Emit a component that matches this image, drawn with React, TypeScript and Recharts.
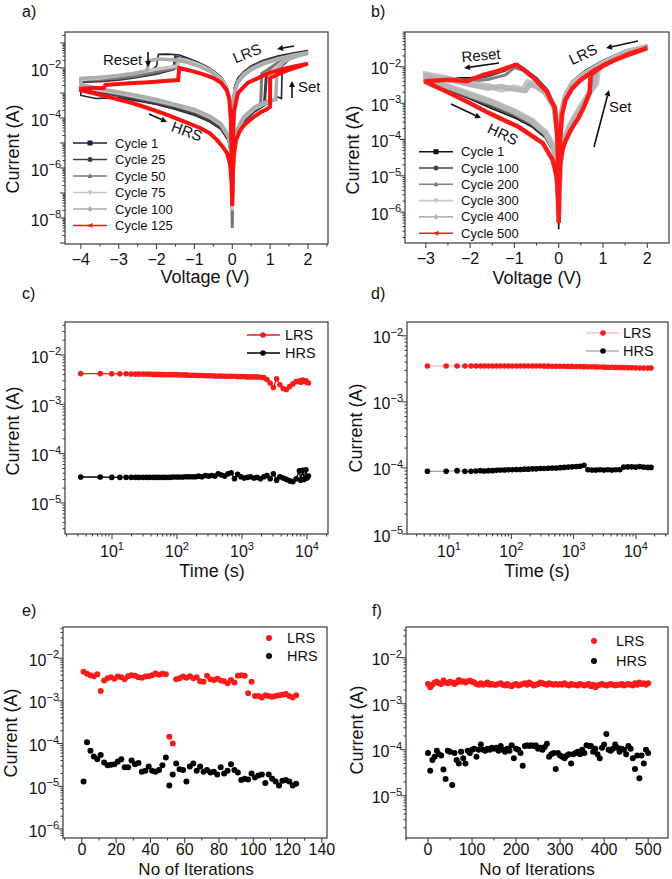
import React from 'react';
import { ComposedChart, Line, Scatter, XAxis, YAxis } from 'recharts';

const FONT = '"Liberation Sans", Arial, Helvetica, sans-serif';
const AXIS = '#333333';
const INK = '#111111';

// ---------- panel a: I-V sweeps (V, |I|) ----------
const aCycle1 = [
  [0, 1.2e-8], [-0.02, 5e-5], [-0.06, 6e-4], [-0.15, 2e-3], [-0.3, 4.5e-3], [-0.6, 1e-2], [-0.9, 1.7e-2], [-1.2, 2.6e-2],
  [-1.4, 3.3e-2], [-1.7, 3.6e-2], [-1.95, 3.5e-2], [-2.0, 1.2e-2], [-2.1, 9e-3], [-2.5, 6e-3], [-3.0, 4.5e-3], [-3.5, 3.8e-3], [-4.0, 3.2e-3],
  [-4.0, 8e-4], [-3.6, 6e-4], [-3.0, 6.5e-4], [-2.5, 4.8e-4], [-2.0, 3.5e-4], [-1.5, 2.2e-4], [-1.0, 1.3e-4], [-0.6, 7e-5],
  [-0.3, 3.5e-5], [-0.1, 1.2e-5], [-0.03, 3e-6], [0, 1.2e-8],
  [0.03, 4e-6], [0.1, 2e-5], [0.3, 7e-5], [0.6, 1.8e-4], [0.9, 3.5e-4], [1.1, 5e-4], [1.2, 7e-4], [1.3, 6e-4], [1.32, 1.2e-2],
  [1.6, 2.8e-2], [2.0, 5e-2], [1.6, 4e-2], [1.2, 3e-2], [0.8, 2e-2], [0.5, 1.2e-2], [0.3, 7e-3], [0.15, 4e-3], [0.07, 2e-3],
  [0.03, 6e-4], [0.01, 5e-5], [0, 1.2e-8],
];
const aCycle25 = [
  [0, 5e-8], [-0.02, 6e-5], [-0.06, 5e-4], [-0.15, 1.8e-3], [-0.3, 4e-3], [-0.6, 9e-3], [-0.9, 1.5e-2], [-1.2, 2.2e-2],
  [-1.5, 2.8e-2], [-1.55, 9e-3], [-2.0, 6e-3], [-2.5, 4.5e-3], [-3.0, 3.5e-3], [-3.5, 3e-3], [-4.0, 2.8e-3],
  [-4.0, 1.6e-3], [-3.5, 1.1e-3], [-3.0, 8e-4], [-2.5, 5.5e-4], [-2.0, 3.8e-4], [-1.5, 2.5e-4], [-1.0, 1.5e-4], [-0.6, 8e-5],
  [-0.3, 4e-5], [-0.1, 1.4e-5], [-0.03, 4e-6], [0, 5e-8],
  [0.03, 5e-6], [0.1, 2.2e-5], [0.3, 8e-5], [0.6, 2e-4], [0.85, 3.5e-4], [0.9, 5e-3], [1.2, 1.5e-2], [1.6, 2.8e-2], [2.0, 4.5e-2],
  [1.6, 3.5e-2], [1.2, 2.6e-2], [0.8, 1.8e-2], [0.5, 1.1e-2], [0.3, 6.5e-3], [0.15, 3.5e-3], [0.07, 1.6e-3], [0.03, 5e-4],
  [0.01, 4e-5], [0, 5e-8],
];
const aCycle50 = [
  [0, 4e-9], [-0.02, 4e-5], [-0.06, 4e-4], [-0.15, 1.6e-3], [-0.3, 3.6e-3], [-0.6, 8e-3], [-0.9, 1.3e-2], [-1.2, 1.9e-2],
  [-1.45, 2.4e-2], [-1.5, 1e-2], [-2.0, 7e-3], [-2.5, 5e-3], [-3.0, 4e-3], [-3.5, 3.5e-3], [-4.0, 3.3e-3],
  [-4.0, 2e-3], [-3.5, 1.3e-3], [-3.0, 9e-4], [-2.5, 6.5e-4], [-2.0, 4.5e-4], [-1.5, 3e-4], [-1.0, 1.8e-4], [-0.6, 1e-4],
  [-0.3, 5e-5], [-0.1, 1.6e-5], [-0.03, 5e-6], [0, 4e-9],
  [0.03, 6e-6], [0.1, 2.5e-5], [0.3, 9e-5], [0.6, 2.3e-4], [0.75, 3e-4], [0.78, 6e-3], [1.2, 1.6e-2], [1.6, 3e-2], [2.0, 4.2e-2],
  [1.6, 3.3e-2], [1.2, 2.4e-2], [0.8, 1.6e-2], [0.5, 1e-2], [0.3, 6e-3], [0.15, 3e-3], [0.07, 1.4e-3], [0.03, 4e-4],
  [0.01, 3e-5], [0, 4e-9],
];
const aCycle75 = [
  [0, 2e-8], [-0.02, 5e-5], [-0.06, 5e-4], [-0.15, 1.7e-3], [-0.3, 3.8e-3], [-0.6, 8.5e-3], [-0.9, 1.4e-2], [-1.2, 2e-2],
  [-1.4, 2.3e-2], [-1.45, 1.2e-2], [-2.0, 9e-3], [-2.5, 6.5e-3], [-3.0, 5e-3], [-3.5, 4e-3], [-4.0, 3.5e-3],
  [-4.0, 1.8e-3], [-3.5, 1.3e-3], [-3.0, 1e-3], [-2.5, 7e-4], [-2.0, 5e-4], [-1.5, 3.3e-4], [-1.0, 2e-4], [-0.6, 1.1e-4],
  [-0.3, 5.5e-5], [-0.1, 1.8e-5], [-0.03, 5e-6], [0, 2e-8],
  [0.03, 6e-6], [0.1, 2.6e-5], [0.3, 1e-4], [0.6, 2.5e-4], [0.9, 4e-4], [1.0, 4.5e-4], [1.02, 7e-3], [1.3, 1.6e-2], [1.6, 2.6e-2],
  [2.0, 4e-2], [1.6, 3.2e-2], [1.2, 2.3e-2], [0.8, 1.5e-2], [0.5, 9e-3], [0.3, 5.5e-3], [0.15, 2.8e-3], [0.07, 1.3e-3],
  [0.03, 3.5e-4], [0.01, 3e-5], [0, 2e-8],
];
const aCycle100 = [
  [0, 3e-8], [-0.02, 4e-5], [-0.06, 4.5e-4], [-0.15, 1.5e-3], [-0.3, 3.4e-3], [-0.6, 7.5e-3], [-0.9, 1.2e-2], [-1.2, 1.7e-2],
  [-1.5, 2.1e-2], [-1.9, 2.3e-2], [-2.2, 2e-2], [-2.25, 8e-3], [-2.6, 6e-3], [-3.0, 5e-3], [-3.5, 4.3e-3], [-4.0, 3.8e-3],
  [-4.0, 2.2e-3], [-3.5, 1.5e-3], [-3.0, 1.1e-3], [-2.5, 8e-4], [-2.0, 5.5e-4], [-1.5, 3.5e-4], [-1.0, 2.2e-4], [-0.6, 1.2e-4],
  [-0.3, 6e-5], [-0.1, 2e-5], [-0.03, 6e-6], [0, 3e-8],
  [0.03, 7e-6], [0.1, 3e-5], [0.3, 1.1e-4], [0.6, 2.8e-4], [0.9, 4.5e-4], [1.15, 5.5e-4], [1.18, 8e-3], [1.4, 2e-2], [1.7, 3e-2],
  [2.0, 3.8e-2], [1.6, 3e-2], [1.2, 2.2e-2], [0.8, 1.4e-2], [0.5, 8.5e-3], [0.3, 5e-3], [0.15, 2.6e-3], [0.07, 1.2e-3],
  [0.03, 3e-4], [0.01, 2.5e-5], [0, 3e-8],
];
const aCycle125 = [
  [0, 3e-8], [-0.02, 5e-6], [-0.04, 1e-4], [-0.08, 6e-4], [-0.15, 1.3e-3], [-0.3, 2.6e-3], [-0.5, 4e-3], [-0.8, 5.8e-3],
  [-1.1, 7.8e-3], [-1.4, 1e-2], [-1.43, 3.3e-3], [-1.8, 3e-3], [-2.2, 2.7e-3], [-2.6, 2.5e-3], [-3.0, 2.3e-3], [-3.35, 2.1e-3],
  [-3.4, 1.6e-3], [-3.7, 1.6e-3], [-4.0, 1.5e-3],
  [-4.0, 1.3e-3], [-3.5, 8.5e-4], [-3.0, 5.5e-4], [-2.6, 3.8e-4], [-2.2, 2.4e-4], [-1.7, 1.3e-4], [-1.3, 7.5e-5], [-0.85, 4e-5],
  [-0.6, 2.5e-5], [-0.4, 1.3e-5], [-0.25, 7e-6], [-0.14, 4e-6], [-0.06, 1.5e-6], [-0.02, 3e-7], [0, 3e-8],
  [0.02, 8e-7], [0.05, 4e-6], [0.1, 1.3e-5], [0.2, 3e-5], [0.3, 5e-5], [0.45, 8e-5], [0.6, 1.2e-4], [0.75, 1.7e-4], [0.9, 2.2e-4],
  [1.0, 2.8e-4], [1.0, 4e-3], [1.2, 5.5e-3], [1.5, 8.5e-3], [1.8, 1.2e-2], [2.0, 1.5e-2],
  [1.7, 1.2e-2], [1.4, 9.5e-3], [1.0, 6.5e-3], [0.75, 4.4e-3], [0.4, 2.5e-3], [0.15, 1e-3], [0.05, 2e-4], [0.02, 2e-5], [0, 3e-8],
];

// ---------- panel b: I-V sweeps (V, |I|) ----------
const bCycle1 = [
  [0, 3.4e-7], [-0.01, 1e-5], [-0.03, 3e-4], [-0.1, 9e-4], [-0.25, 2.3e-3], [-0.5, 5e-3], [-0.8, 9.5e-3], [-1.0, 1.2e-2],
  [-1.2, 8.5e-3], [-1.6, 6e-3], [-2.0, 5e-3], [-2.5, 5e-3], [-3.0, 5e-3],
  [-3.0, 4e-3], [-2.5, 2.3e-3], [-2.0, 1.3e-3], [-1.5, 7e-4], [-1.0, 4e-4], [-0.6, 2.2e-4], [-0.3, 1.1e-4], [-0.12, 4.5e-5],
  [-0.04, 1.2e-5], [-0.01, 2e-6], [0, 3.4e-7],
  [0.01, 3e-6], [0.04, 2.5e-5], [0.1, 7e-5], [0.25, 1.8e-4], [0.4, 3.5e-4], [0.55, 7e-4], [0.65, 1.3e-3], [0.72, 2.5e-3],
  [0.74, 7e-3], [1.0, 1.4e-2], [1.5, 2.6e-2], [2.0, 4e-2],
  [1.5, 2.8e-2], [1.0, 1.5e-2], [0.6, 8e-3], [0.3, 4e-3], [0.15, 2e-3], [0.06, 6e-4], [0.02, 8e-5], [0, 3.4e-7],
];
const bCycle100 = [
  [0, 2e-6], [-0.01, 2e-5], [-0.03, 2.5e-4], [-0.1, 9e-4], [-0.25, 2.2e-3], [-0.5, 4.8e-3], [-0.8, 9e-3], [-1.0, 1.15e-2],
  [-1.2, 8e-3], [-1.6, 5.5e-3], [-2.0, 4.5e-3], [-2.5, 4.8e-3], [-3.0, 5.5e-3],
  [-3.0, 4.2e-3], [-2.5, 2.4e-3], [-2.0, 1.4e-3], [-1.5, 8e-4], [-1.0, 4.5e-4], [-0.6, 2.4e-4], [-0.3, 1.2e-4], [-0.12, 5e-5],
  [-0.04, 1.5e-5], [-0.01, 4e-6], [0, 2e-6],
  [0.01, 4e-6], [0.04, 2.8e-5], [0.1, 7.5e-5], [0.25, 2e-4], [0.4, 3.8e-4], [0.55, 7.5e-4], [0.68, 1.5e-3], [0.78, 2.8e-3],
  [0.8, 7.5e-3], [1.0, 1.4e-2], [1.5, 2.7e-2], [2.0, 3.9e-2],
  [1.5, 2.8e-2], [1.0, 1.45e-2], [0.6, 7.5e-3], [0.3, 3.8e-3], [0.15, 1.9e-3], [0.06, 6e-4], [0.02, 7e-5], [0, 2e-6],
];
const bCycle200 = [
  [0, 5e-6], [-0.01, 2.5e-5], [-0.03, 2.5e-4], [-0.1, 8.5e-4], [-0.25, 2e-3], [-0.5, 4.3e-3], [-0.8, 8e-3], [-1.0, 9.5e-3],
  [-1.2, 6e-3], [-1.6, 4.5e-3], [-2.0, 4e-3], [-2.5, 5e-3], [-3.0, 6e-3],
  [-3.0, 4.5e-3], [-2.5, 2.6e-3], [-2.0, 1.5e-3], [-1.5, 9e-4], [-1.0, 5e-4], [-0.6, 2.7e-4], [-0.3, 1.35e-4], [-0.12, 5.5e-5],
  [-0.04, 1.8e-5], [-0.01, 6e-6], [0, 5e-6],
  [0.01, 6e-6], [0.04, 3e-5], [0.1, 8e-5], [0.25, 2.2e-4], [0.4, 4.5e-4], [0.55, 9e-4], [0.65, 1.4e-3], [0.75, 2.2e-3],
  [0.85, 3.2e-3], [0.87, 7e-3], [1.0, 1.2e-2], [1.5, 2.5e-2], [2.0, 3.7e-2],
  [1.5, 2.6e-2], [1.0, 1.3e-2], [0.6, 6.8e-3], [0.3, 3.4e-3], [0.15, 1.7e-3], [0.06, 5.5e-4], [0.02, 6e-5], [0, 5e-6],
];
const bCycle300 = [
  [0, 1e-6], [-0.01, 1.5e-5], [-0.03, 2e-4], [-0.1, 8e-4], [-0.3, 2e-3], [-0.5, 3.2e-3], [-0.7, 3.8e-3], [-0.8, 2.4e-3],
  [-1.0, 2.7e-3], [-1.3, 2.4e-3], [-1.6, 3e-3], [-2.0, 3.4e-3], [-2.5, 4.8e-3], [-3.0, 6.2e-3],
  [-3.0, 4.6e-3], [-2.5, 2.9e-3], [-2.0, 1.8e-3], [-1.5, 1.1e-3], [-1.0, 6e-4], [-0.6, 3.3e-4], [-0.3, 1.6e-4], [-0.12, 6.5e-5],
  [-0.04, 2.2e-5], [-0.01, 5e-6], [0, 1e-6],
  [0.01, 5e-6], [0.04, 3e-5], [0.1, 8.5e-5], [0.25, 2.4e-4], [0.4, 5e-4], [0.55, 1e-3], [0.7, 2e-3], [0.85, 3.5e-3],
  [0.88, 8e-3], [1.0, 1.2e-2], [1.5, 2.4e-2], [2.0, 3.6e-2],
  [1.5, 2.5e-2], [1.0, 1.25e-2], [0.6, 6.5e-3], [0.3, 3.3e-3], [0.15, 1.6e-3], [0.06, 5e-4], [0.02, 6e-5], [0, 1e-6],
];
const bCycle400 = [
  [0, 8e-7], [-0.01, 1.2e-5], [-0.03, 1.8e-4], [-0.1, 7.5e-4], [-0.3, 1.9e-3], [-0.5, 2.8e-3], [-0.65, 3.3e-3], [-0.75, 2.2e-3],
  [-1.0, 2.4e-3], [-1.3, 2.9e-3], [-1.6, 2.6e-3], [-2.0, 3.2e-3], [-2.5, 4.5e-3], [-3.0, 5.8e-3],
  [-3.0, 4.4e-3], [-2.5, 2.8e-3], [-2.0, 1.7e-3], [-1.5, 1.05e-3], [-1.0, 5.8e-4], [-0.6, 3.1e-4], [-0.3, 1.5e-4], [-0.12, 6e-5],
  [-0.04, 2e-5], [-0.01, 4e-6], [0, 8e-7],
  [0.01, 4e-6], [0.04, 2.7e-5], [0.1, 8e-5], [0.25, 2.3e-4], [0.4, 4.8e-4], [0.55, 9.5e-4], [0.7, 1.9e-3], [0.82, 3.4e-3],
  [0.84, 8e-3], [1.0, 1.15e-2], [1.5, 2.35e-2], [2.0, 3.5e-2],
  [1.5, 2.45e-2], [1.0, 1.2e-2], [0.6, 6.2e-3], [0.3, 3.1e-3], [0.15, 1.5e-3], [0.06, 4.8e-4], [0.02, 5.5e-5], [0, 8e-7],
];
const bCycle500 = [
  [0, 5e-7], [-0.01, 1e-5], [-0.03, 1.2e-4], [-0.09, 7.5e-4], [-0.27, 2.1e-3], [-0.57, 5e-3], [-0.8, 8.5e-3], [-0.95, 1.15e-2],
  [-1.1, 1e-2], [-1.4, 7.5e-3], [-1.7, 6e-3], [-2.07, 4e-3], [-2.45, 4.4e-3], [-2.95, 4.1e-3], [-3.0, 4e-3],
  [-3.0, 3.8e-3], [-2.5, 2e-3], [-2.0, 1e-3], [-1.58, 5.4e-4], [-0.9, 2.2e-4], [-0.36, 8e-5], [-0.14, 2.8e-5], [-0.05, 1e-5],
  [-0.01, 2e-6], [0, 5e-7],
  [0.01, 3e-6], [0.03, 2e-5], [0.08, 5e-5], [0.15, 9e-5], [0.25, 1.6e-4], [0.35, 2.6e-4], [0.45, 4e-4], [0.55, 7e-4],
  [0.63, 1.2e-3], [0.7, 2e-3], [0.72, 6e-3], [0.85, 8e-3], [1.0, 1.1e-2], [1.3, 1.6e-2], [1.6, 2.2e-2], [2.0, 3.3e-2],
  [1.6, 2.3e-2], [1.2, 1.4e-2], [0.8, 8e-3], [0.5, 4.4e-3], [0.3, 2.5e-3], [0.15, 1.2e-3], [0.07, 4.5e-4], [0.03, 1e-4],
  [0.01, 1e-5], [0, 5e-7],
];

// ---------- panel c: retention ----------
const cTime = [3.3, 6.6, 9.9, 13.2, 16.5, 19.8, 23, 26, 30, 34, 38, 43, 48, 54, 61, 68, 77, 86, 97, 108, 122, 137, 153, 172,
  193, 216, 243, 272, 305, 343, 384, 431, 483, 542, 608, 682, 765, 858, 963, 1080, 1210, 1360, 1530, 1710, 1920, 2160, 2420,
  2710, 3040, 3410, 3830, 4300, 4820, 5410, 6070, 6810, 7640, 8000, 8570, 9000, 9620, 10000, 10500];
const cLrs = [4.2e-3, 4.2e-3, 4.15e-3, 4.15e-3, 4.15e-3, 4.1e-3, 4.1e-3, 4.1e-3, 4.1e-3, 4.1e-3, 4.1e-3, 4.05e-3, 4.05e-3,
  4.05e-3, 4.0e-3, 4.0e-3, 4.0e-3, 4.0e-3, 4.0e-3, 3.95e-3, 3.95e-3, 3.95e-3, 3.9e-3, 3.9e-3, 3.9e-3, 3.85e-3, 3.85e-3, 3.8e-3,
  3.8e-3, 3.8e-3, 3.75e-3, 3.75e-3, 3.75e-3, 3.7e-3, 3.7e-3, 3.7e-3, 3.7e-3, 3.65e-3, 3.65e-3, 3.65e-3, 3.6e-3, 3.6e-3, 3.6e-3,
  3.6e-3, 3.55e-3, 3.5e-3, 3.2e-3, 2.7e-3, 2.2e-3, 3.3e-3, 2.5e-3, 2.1e-3, 2.0e-3, 2.3e-3, 2.6e-3, 2.9e-3, 3.0e-3, 2.8e-3,
  3.1e-3, 2.9e-3, 3.0e-3, 2.8e-3, 2.7e-3];
const cHrs = [3.35e-5, 3.35e-5, 3.3e-5, 3.3e-5, 3.3e-5, 3.3e-5, 3.3e-5, 3.3e-5, 3.3e-5, 3.3e-5, 3.3e-5, 3.3e-5, 3.3e-5,
  3.3e-5, 3.3e-5, 3.3e-5, 3.3e-5, 3.35e-5, 3.35e-5, 3.35e-5, 3.35e-5, 3.4e-5, 3.4e-5, 3.4e-5, 3.4e-5, 3.5e-5, 3.4e-5, 3.6e-5,
  3.5e-5, 3.6e-5, 3.5e-5, 3.9e-5, 3.7e-5, 3.5e-5, 3.9e-5, 4.1e-5, 3.1e-5, 3.8e-5, 3.4e-5, 3.2e-5, 3.3e-5, 3.4e-5, 3.2e-5,
  3.3e-5, 3.1e-5, 3.4e-5, 3.6e-5, 3.1e-5, 3.9e-5, 2.9e-5, 3.4e-5, 3.2e-5, 3.0e-5, 2.8e-5, 2.7e-5, 3.1e-5, 4.5e-5, 2.9e-5,
  4.6e-5, 3.0e-5, 4.7e-5, 3.2e-5, 3.5e-5];

// ---------- panel d: retention ----------
const dTime = [4.5, 9, 13.5, 18, 22.5, 27, 32, 37, 43, 50, 58, 67, 78, 90, 104, 121, 140, 162, 188, 218, 252, 292, 338, 392,
  454, 526, 609, 705, 817, 946, 1100, 1270, 1470, 1700, 1970, 2280, 2640, 3060, 3550, 4110, 4760, 5510, 6380, 7390, 8560,
  9910, 11500, 13300, 15400, 17500];
const dLrs = [3.5e-3, 3.5e-3, 3.5e-3, 3.5e-3, 3.5e-3, 3.5e-3, 3.5e-3, 3.5e-3, 3.5e-3, 3.5e-3, 3.5e-3, 3.5e-3, 3.5e-3,
  3.5e-3, 3.5e-3, 3.5e-3, 3.5e-3, 3.5e-3, 3.5e-3, 3.5e-3, 3.49e-3, 3.49e-3, 3.48e-3, 3.48e-3, 3.47e-3, 3.47e-3, 3.46e-3,
  3.46e-3, 3.45e-3, 3.45e-3, 3.44e-3, 3.43e-3, 3.42e-3, 3.41e-3, 3.4e-3, 3.39e-3, 3.38e-3, 3.36e-3, 3.35e-3, 3.34e-3,
  3.33e-3, 3.32e-3, 3.31e-3, 3.3e-3, 3.29e-3, 3.28e-3, 3.27e-3, 3.26e-3, 3.25e-3, 3.25e-3];
const dHrs = [8.9e-5, 8.9e-5, 9.1e-5, 8.9e-5, 8.9e-5, 9.0e-5, 9.1e-5, 9.0e-5, 9.1e-5, 9.1e-5, 9.2e-5, 9.3e-5, 9.3e-5,
  9.4e-5, 9.4e-5, 9.5e-5, 9.5e-5, 9.6e-5, 9.6e-5, 9.7e-5, 9.7e-5, 9.8e-5, 9.8e-5, 9.9e-5, 1.0e-4, 1.0e-4, 1.01e-4, 1.02e-4,
  1.03e-4, 1.04e-4, 1.05e-4, 1.06e-4, 1.1e-4, 9.4e-5, 9.3e-5, 9.3e-5, 9.4e-5, 9.3e-5, 9.4e-5, 9.3e-5, 9.4e-5, 9.4e-5,
  1.03e-4, 1.04e-4, 1.04e-4, 1.03e-4, 1.05e-4, 1.03e-4, 1.02e-4, 1.02e-4];

// ---------- panel e: endurance, 125 cycles ----------
const eIter = [1, 3, 5, 7, 9, 11, 13, 15, 17, 19, 21, 23, 25, 27, 29, 31, 33, 35, 37, 39, 41, 43, 45, 47, 49, 51, 53, 55, 57,
  59, 61, 63, 65, 67, 69, 71, 73, 75, 77, 79, 81, 83, 85, 87, 89, 91, 93, 95, 97, 99, 101, 103, 105, 107, 109, 111, 113, 115,
  117, 119, 121, 123, 125];
const eLrs = [4.8e-3, 4.3e-3, 4.0e-3, 3.8e-3, 4.2e-3, 1.7e-3, 3.0e-3, 3.4e-3, 3.6e-3, 3.3e-3, 3.7e-3, 3.6e-3, 3.2e-3,
  3.8e-3, 4.0e-3, 3.9e-3, 3.6e-3, 3.5e-3, 3.7e-3, 3.8e-3, 4.0e-3, 4.4e-3, 4.1e-3, 4.3e-3, 4.2e-3, 1.45e-4, 1.0e-4, 3.2e-3,
  3.4e-3, 3.7e-3, 3.5e-3, 3.8e-3, 3.4e-3, 3.6e-3, 2.9e-3, 2.8e-3, 3.9e-3, 3.2e-3, 3.1e-3, 3.3e-3, 3.0e-3, 2.9e-3, 2.6e-3,
  3.1e-3, 2.7e-3, 3.9e-3, 4.0e-3, 3.9e-3, 1.5e-3, 2.8e-3, 1.3e-3, 1.3e-3, 1.2e-3, 1.35e-3, 1.3e-3, 1.25e-3, 1.3e-3,
  1.35e-3, 1.4e-3, 1.45e-3, 1.3e-3, 1.2e-3, 1.35e-3];
const eHrs = [1.3e-5, 1.07e-4, 6.8e-5, 5.0e-5, 4.3e-5, 5.4e-5, 3.6e-5, 3.1e-5, 3.2e-5, 3.3e-5, 3.8e-5, 4.3e-5, 2.8e-5,
  2.8e-5, 4.0e-5, 3.3e-5, 3.5e-5, 2.2e-5, 2.3e-5, 2.9e-5, 2.3e-5, 2.2e-5, 2.4e-5, 3.1e-5, 4.7e-5, 1.05e-5, 1.9e-5, 3.4e-5,
  2.5e-5, 2.4e-5, 1.3e-5, 2.9e-5, 3.4e-5, 2.3e-5, 2.9e-5, 2.2e-5, 2.4e-5, 2.1e-5, 2.2e-5, 1.9e-5, 2.8e-5, 2.0e-5, 2.3e-5,
  3.3e-5, 2.4e-5, 2.1e-5, 1.4e-5, 1.5e-5, 1.45e-5, 2.0e-5, 1.6e-5, 1.8e-5, 1.9e-5, 1.2e-5, 1.9e-5, 1.5e-5, 1.3e-5,
  1.05e-5, 1.35e-5, 1.4e-5, 1.3e-5, 1.05e-5, 1.15e-5];

// ---------- panel f: endurance, 500 cycles ----------
const fIter = [0, 5, 10, 15, 20, 25, 30, 35, 40, 45, 50, 55, 60, 65, 70, 75, 80, 85, 90, 95, 100, 105, 110, 115, 120, 125,
  130, 135, 140, 145, 150, 155, 160, 165, 170, 175, 180, 185, 190, 195, 200, 205, 210, 215, 220, 225, 230, 235, 240, 245,
  250, 255, 260, 265, 270, 275, 280, 285, 290, 295, 300, 305, 310, 315, 320, 325, 330, 335, 340, 345, 350, 355, 360, 365,
  370, 375, 380, 385, 390, 395, 400, 405, 410, 415, 420, 425, 430, 435, 440, 445, 450, 455, 460, 465, 470, 475, 480, 485,
  490, 495, 500];
const fLrs = [2.7e-3, 2.3e-3, 2.6e-3, 2.9e-3, 3.0e-3, 2.8e-3, 2.7e-3, 3.2e-3, 2.9e-3, 2.8e-3, 3.0e-3, 2.9e-3, 2.7e-3,
  2.9e-3, 3.3e-3, 3.0e-3, 3.1e-3, 2.9e-3, 3.1e-3, 3.2e-3, 3.0e-3, 2.9e-3, 2.7e-3, 2.6e-3, 2.8e-3, 2.6e-3, 2.7e-3, 2.9e-3,
  2.6e-3, 2.7e-3, 2.6e-3, 2.6e-3, 2.7e-3, 2.8e-3, 2.6e-3, 2.5e-3, 2.7e-3, 2.5e-3, 2.4e-3, 2.6e-3, 2.7e-3, 2.5e-3, 2.6e-3,
  2.7e-3, 2.8e-3, 2.6e-3, 2.9e-3, 2.7e-3, 2.5e-3, 2.6e-3, 2.7e-3, 2.9e-3, 2.8e-3, 2.7e-3, 2.6e-3, 2.8e-3, 2.7e-3, 2.6e-3,
  2.7e-3, 2.6e-3, 2.7e-3, 2.6e-3, 2.8e-3, 2.6e-3, 2.5e-3, 2.7e-3, 2.6e-3, 2.6e-3, 2.5e-3, 2.7e-3, 2.6e-3, 2.5e-3, 2.6e-3,
  2.7e-3, 2.4e-3, 2.6e-3, 2.3e-3, 2.5e-3, 2.6e-3, 2.7e-3, 2.6e-3, 2.5e-3, 2.6e-3, 2.7e-3, 2.6e-3, 2.5e-3, 2.6e-3, 2.6e-3,
  2.7e-3, 2.5e-3, 2.6e-3, 2.7e-3, 2.6e-3, 2.5e-3, 2.8e-3, 2.6e-3, 2.9e-3, 2.7e-3, 2.8e-3, 2.6e-3, 2.8e-3];
const fHrs = [8.5e-5, 3.5e-5, 6e-5, 7e-5, 9.5e-5, 8e-5, 7.5e-5, 3.7e-5, 2.3e-5, 9.5e-5, 9e-5, 1.7e-5, 8.5e-5, 6e-5, 5e-5,
  9e-5, 6.5e-5, 5e-5, 9.5e-5, 8.5e-5, 1.0e-4, 1.05e-4, 7e-5, 1e-4, 1.3e-4, 1.0e-4, 9.5e-5, 1.05e-4, 1.0e-4, 1.1e-4, 1.05e-4,
  1.1e-4, 9.5e-5, 1.2e-4, 1.0e-4, 9e-5, 1.05e-4, 9.5e-5, 1.25e-4, 6.5e-5, 1.05e-4, 1.0e-4, 8.5e-5, 4.5e-5, 1.2e-4, 1.25e-4,
  1.2e-4, 1.25e-4, 1.2e-4, 1.25e-4, 1.05e-4, 1.1e-4, 1.0e-4, 1.15e-4, 1.35e-4, 7e-5, 8e-5, 8.5e-5, 3.8e-5, 8.5e-5, 7.5e-5,
  7e-5, 6.5e-5, 7.5e-5, 8e-5, 5e-5, 8e-5, 8.5e-5, 9e-5, 8e-5, 1.0e-4, 8.5e-5, 1.25e-4, 1.2e-4, 1.2e-4, 9e-5, 1.05e-4, 8e-5,
  6.5e-5, 1.1e-4, 1.3e-4, 2.2e-4, 1.0e-4, 9.5e-5, 1.05e-4, 1.3e-4, 1.1e-4, 9e-5, 1.05e-4, 1.0e-4, 8e-5, 1.2e-4, 1.05e-4,
  6.5e-5, 3.8e-5, 7.5e-5, 2.4e-5, 7.5e-5, 5e-5, 1.0e-4, 8.5e-5];

// legends
const aLegend = [
  { name: 'Cycle 1', color: '#1f1f3d', shape: 'square' },
  { name: 'Cycle 25', color: '#3d3d3d', shape: 'circle' },
  { name: 'Cycle 50', color: '#7a7a7a', shape: 'up' },
  { name: 'Cycle 75', color: '#c4c4c4', shape: 'down' },
  { name: 'Cycle 100', color: '#acacac', shape: 'diamond' },
  { name: 'Cycle 125', color: '#ff1010', shape: 'left' },
];
const bLegend = [
  { name: 'Cycle 1', color: '#111111', shape: 'square' },
  { name: 'Cycle 100', color: '#444444', shape: 'circle' },
  { name: 'Cycle 200', color: '#7f7f7f', shape: 'up' },
  { name: 'Cycle 300', color: '#c6c6c6', shape: 'down' },
  { name: 'Cycle 400', color: '#b5b5b5', shape: 'diamond' },
  { name: 'Cycle 500', color: '#ff1a1a', shape: 'left' },
];

// plot frames [left, top, right, bottom] in page pixels
const frames = [
  [65, 32, 328, 244],
  [405, 32, 669, 243],
  [65, 322, 328, 534],
  [407, 322, 668, 534],
  [63, 627, 327, 838],
  [406, 627, 668, 838],
];

const pts = (arr: number[][]) => arr.map(([v, i]) => ({ v, i }));
const zip = (xs: number[], ys: number[]) => xs.map((t, k) => ({ t, i: ys[k] }));

const logTicks = (lo: number, hi: number) => {
  const out: number[] = [];
  for (let e = Math.floor(lo); e <= Math.ceil(hi); e++) {
    for (let k = 1; k <= 9; k++) {
      const v = k * Math.pow(10, e);
      const l = Math.log10(v);
      if (l >= lo - 1e-9 && l <= hi + 1e-9) out.push(v);
    }
  }
  return out;
};
const stepTicks = (lo: number, hi: number, step: number) => {
  const out: number[] = [];
  for (let v = Math.ceil(lo / step) * step; v <= hi + 1e-9; v += step) out.push(+v.toFixed(6));
  return out;
};
const minus = (v: number) => (v < 0 ? `\u2212${-v}` : `${v}`);

const LogYTick = (props: any) => {
  const { x, y, payload, labels } = props;
  const l = Math.log10(payload.value);
  const e = Math.round(l);
  const major = Math.abs(l - e) < 1e-6;
  const show = major && labels.includes(e);
  return (
    <g>
      <line x1={x} x2={x - (major ? 5 : 2.5)} y1={y} y2={y} stroke={AXIS} />
      {show && (
        <text x={x - 4} y={y + 7.5} textAnchor="end" fontSize={16} fontFamily={FONT} fill={INK}>
          10<tspan dy={-7.5} fontSize={11}>{minus(e)}</tspan>
        </text>
      )}
    </g>
  );
};

const LogXTick = (props: any) => {
  const { x, y, payload, labels, dy } = props;
  const l = Math.log10(payload.value);
  const e = Math.round(l);
  const major = Math.abs(l - e) < 1e-6;
  const show = major && labels.includes(e);
  return (
    <g>
      <line x1={x} x2={x} y1={y} y2={y + (major ? 5 : 2.5)} stroke={AXIS} />
      {show && (
        <text x={x} y={y + dy} textAnchor="middle" fontSize={16} fontFamily={FONT} fill={INK}>
          10<tspan dy={-7.5} fontSize={11}>{e}</tspan>
        </text>
      )}
    </g>
  );
};

const LinXTick = (props: any) => {
  const { x, y, payload, labels, dy } = props;
  const v = payload.value;
  const show = labels.some((t: number) => Math.abs(t - v) < 1e-9);
  return (
    <g>
      <line x1={x} x2={x} y1={y} y2={y + (show ? 5 : 2.5)} stroke={AXIS} />
      {show && (
        <text x={x} y={y + dy} textAnchor="middle" fontSize={16} fontFamily={FONT} fill={INK}>
          {minus(v)}
        </text>
      )}
    </g>
  );
};

const Marker = ({ shape, x, y, color, s = 3 }: any) => {
  if (shape === 'square') return <rect x={x - s} y={y - s} width={2 * s} height={2 * s} fill={color} />;
  if (shape === 'circle') return <circle cx={x} cy={y} r={s} fill={color} />;
  if (shape === 'up') return <polygon points={`${x},${y - s - 0.5} ${x - s},${y + s - 0.5} ${x + s},${y + s - 0.5}`} fill={color} />;
  if (shape === 'down') return <polygon points={`${x},${y + s + 0.5} ${x - s},${y - s + 0.5} ${x + s},${y - s + 0.5}`} fill={color} />;
  if (shape === 'diamond') return <polygon points={`${x},${y - s - 0.5} ${x + s},${y} ${x},${y + s + 0.5} ${x - s},${y}`} fill={color} />;
  return <polygon points={`${x - s - 0.5},${y} ${x + s},${y - s} ${x + s},${y + s}`} fill={color} />;
};

const Arrow = ({ x1, y1, x2, y2 }: any) => {
  const a = Math.atan2(y2 - y1, x2 - x1);
  const h = 6;
  const w = 3;
  const bx = x2 - h * Math.cos(a);
  const by = y2 - h * Math.sin(a);
  const p1 = `${bx + w * Math.sin(a)},${by - w * Math.cos(a)}`;
  const p2 = `${bx - w * Math.sin(a)},${by + w * Math.cos(a)}`;
  return (
    <g>
      <line x1={x1} y1={y1} x2={bx} y2={by} stroke={INK} strokeWidth={1.6} />
      <polygon points={`${x2},${y2} ${p1} ${p2}`} fill={INK} />
    </g>
  );
};

const Rot = ({ x, y, angle, size = 15, children }: any) => (
  <text x={x} y={y} transform={`rotate(${angle} ${x} ${y})`} textAnchor="middle" dominantBaseline="central"
    fontSize={size} fontFamily={FONT} fill={INK}>{children}</text>
);

const Txt = ({ x, y, size = 15, anchor = 'start', children }: any) => (
  <text x={x} y={y} textAnchor={anchor} fontSize={size} fontFamily={FONT} fill={INK}>{children}</text>
);

const lineDot = (color: string) => ({ r: 2.8, fill: color, stroke: color, strokeWidth: 0 });
const dotShape = (color: string) => (p: any) => <circle cx={p.cx} cy={p.cy} r={3} fill={color} />;

// axis domains (log axes as exponents)
const aX = [-4.42, 2.53];
const aY = [-9.04, -0.56];
const bX = [-3.47, 2.49];
const bY = [-6.85, -1.04];
const cX = [0.277, 4.323];
const cY = [-5.63, -1.33];
const dX = [0.326, 4.515];
const dY = [-5.0, -1.79];
const eX = [-11, 143];
const eY = [-6.21, -1.27];
const fX = [-50, 545];
const fY = [-5.92, -1.33];

const pw = (r: number[]) => [Math.pow(10, r[0]), Math.pow(10, r[1])];

const App: React.FC = () => {
  return (
    <div style={{ position: 'absolute', left: 0, top: 0, width: 672, height: 879, background: '#fff', fontFamily: FONT }}>
      {/* a) */}
      <div style={{ position: 'absolute', left: 0, top: 0 }}>
        <ComposedChart width={336} height={290} margin={{ top: 32, right: 8, bottom: 0, left: 0 }}>
          <XAxis type="number" dataKey="v" domain={aX} allowDataOverflow ticks={stepTicks(aX[0], aX[1], 0.5)} interval={0}
            height={46} tickSize={0} tickMargin={0} axisLine={false} tickLine={false}
            tick={(p: any) => <LinXTick {...p} labels={[-4, -3, -2, -1, 0, 1, 2]} dy={21} />} />
          <YAxis type="number" dataKey="i" scale="log" domain={pw(aY)} allowDataOverflow ticks={logTicks(aY[0], aY[1])}
            interval={0} width={65} tickSize={0} tickMargin={0} axisLine={false} tickLine={false}
            tick={(p: any) => <LogYTick {...p} labels={[-2, -4, -6, -8]} />} />
          <Line data={pts(aCycle1)} dataKey="i" stroke="#1f1f3d" strokeWidth={1.6} dot={false} isAnimationActive={false} />
          <Line data={pts(aCycle25)} dataKey="i" stroke="#3d3d3d" strokeWidth={3} dot={false} isAnimationActive={false} />
          <Line data={pts(aCycle50)} dataKey="i" stroke="#7a7a7a" strokeWidth={3} dot={false} isAnimationActive={false} />
          <Line data={pts(aCycle75)} dataKey="i" stroke="#c4c4c4" strokeWidth={3.5} dot={false} isAnimationActive={false} />
          <Line data={pts(aCycle100)} dataKey="i" stroke="#acacac" strokeWidth={3.5} dot={false} isAnimationActive={false} />
          <Line data={pts(aCycle125)} dataKey="i" stroke="#ff1010" strokeWidth={4} dot={false} isAnimationActive={false} />
        </ComposedChart>
      </div>

      {/* b) */}
      <div style={{ position: 'absolute', left: 336, top: 0 }}>
        <ComposedChart width={336} height={290} margin={{ top: 32, right: 3, bottom: 0, left: 0 }}>
          <XAxis type="number" dataKey="v" domain={bX} allowDataOverflow ticks={stepTicks(bX[0], bX[1], 0.5)} interval={0}
            height={47} tickSize={0} tickMargin={0} axisLine={false} tickLine={false}
            tick={(p: any) => <LinXTick {...p} labels={[-3, -2, -1, 0, 1, 2]} dy={21} />} />
          <YAxis type="number" dataKey="i" scale="log" domain={pw(bY)} allowDataOverflow ticks={logTicks(bY[0], bY[1])}
            interval={0} width={69} tickSize={0} tickMargin={0} axisLine={false} tickLine={false}
            tick={(p: any) => <LogYTick {...p} labels={[-2, -3, -4, -5, -6]} />} />
          <Line data={pts(bCycle1)} dataKey="i" stroke="#111111" strokeWidth={1.6} dot={false} isAnimationActive={false} />
          <Line data={pts(bCycle100)} dataKey="i" stroke="#444444" strokeWidth={2.5} dot={false} isAnimationActive={false} />
          <Line data={pts(bCycle200)} dataKey="i" stroke="#7f7f7f" strokeWidth={3} dot={false} isAnimationActive={false} />
          <Line data={pts(bCycle300)} dataKey="i" stroke="#c6c6c6" strokeWidth={6} dot={false} isAnimationActive={false} />
          <Line data={pts(bCycle400)} dataKey="i" stroke="#b5b5b5" strokeWidth={5} dot={false} isAnimationActive={false} />
          <Line data={pts(bCycle500)} dataKey="i" stroke="#ff1a1a" strokeWidth={4.5} dot={false} isAnimationActive={false} />
        </ComposedChart>
      </div>

      {/* c) */}
      <div style={{ position: 'absolute', left: 0, top: 290 }}>
        <ComposedChart width={336} height={290} margin={{ top: 32, right: 8, bottom: 0, left: 0 }}>
          <XAxis type="number" dataKey="t" scale="log" domain={pw(cX)} allowDataOverflow ticks={logTicks(cX[0], cX[1])}
            interval={0} height={46} tickSize={0} tickMargin={0} axisLine={false} tickLine={false}
            tick={(p: any) => <LogXTick {...p} labels={[1, 2, 3, 4]} dy={23} />} />
          <YAxis type="number" dataKey="i" scale="log" domain={pw(cY)} allowDataOverflow ticks={logTicks(cY[0], cY[1])}
            interval={0} width={65} tickSize={0} tickMargin={0} axisLine={false} tickLine={false}
            tick={(p: any) => <LogYTick {...p} labels={[-2, -3, -4, -5]} />} />
          <Line data={zip(cTime, cLrs)} dataKey="i" stroke="#ff1a1a" strokeWidth={1.4} dot={lineDot('#ff1a1a')} isAnimationActive={false} />
          <Line data={zip(cTime, cHrs)} dataKey="i" stroke="#000000" strokeWidth={1.4} dot={lineDot('#000000')} isAnimationActive={false} />
        </ComposedChart>
      </div>

      {/* d) */}
      <div style={{ position: 'absolute', left: 336, top: 290 }}>
        <ComposedChart width={336} height={290} margin={{ top: 32, right: 4, bottom: 0, left: 0 }}>
          <XAxis type="number" dataKey="t" scale="log" domain={pw(dX)} allowDataOverflow ticks={logTicks(dX[0], dX[1])}
            interval={0} height={46} tickSize={0} tickMargin={0} axisLine={false} tickLine={false}
            tick={(p: any) => <LogXTick {...p} labels={[1, 2, 3, 4]} dy={23} />} />
          <YAxis type="number" dataKey="i" scale="log" domain={pw(dY)} allowDataOverflow ticks={logTicks(dY[0], dY[1])}
            interval={0} width={71} tickSize={0} tickMargin={0} axisLine={false} tickLine={false}
            tick={(p: any) => <LogYTick {...p} labels={[-2, -3, -4, -5]} />} />
          <Line data={zip(dTime, dLrs)} dataKey="i" stroke="#f4a3a3" strokeWidth={1} dot={lineDot('#ff1a1a')} isAnimationActive={false} />
          <Line data={zip(dTime, dHrs)} dataKey="i" stroke="#8a8a8a" strokeWidth={1} dot={lineDot('#000000')} isAnimationActive={false} />
        </ComposedChart>
      </div>

      {/* e) */}
      <div style={{ position: 'absolute', left: 0, top: 580 }}>
        <ComposedChart width={336} height={299} margin={{ top: 47, right: 9, bottom: 0, left: 0 }}>
          <XAxis type="number" dataKey="n" domain={eX} allowDataOverflow ticks={stepTicks(eX[0], eX[1], 10)} interval={0}
            height={41} tickSize={0} tickMargin={0} axisLine={false} tickLine={false}
            tick={(p: any) => <LinXTick {...p} labels={[0, 20, 40, 60, 80, 100, 120, 140]} dy={17} />} />
          <YAxis type="number" dataKey="i" scale="log" domain={pw(eY)} allowDataOverflow ticks={logTicks(eY[0], eY[1])}
            interval={0} width={63} tickSize={0} tickMargin={0} axisLine={false} tickLine={false}
            tick={(p: any) => <LogYTick {...p} labels={[-2, -3, -4, -5, -6]} />} />
          <Scatter data={eIter.map((n, k) => ({ n, i: eLrs[k] }))} dataKey="i" fill="#ff1a1a" shape={dotShape('#ff1a1a')} isAnimationActive={false} />
          <Scatter data={eIter.map((n, k) => ({ n, i: eHrs[k] }))} dataKey="i" fill="#000000" shape={dotShape('#000000')} isAnimationActive={false} />
        </ComposedChart>
      </div>

      {/* f) */}
      <div style={{ position: 'absolute', left: 336, top: 580 }}>
        <ComposedChart width={336} height={299} margin={{ top: 47, right: 4, bottom: 0, left: 0 }}>
          <XAxis type="number" dataKey="n" domain={fX} allowDataOverflow ticks={stepTicks(fX[0], fX[1], 50)} interval={0}
            height={41} tickSize={0} tickMargin={0} axisLine={false} tickLine={false}
            tick={(p: any) => <LinXTick {...p} labels={[0, 100, 200, 300, 400, 500]} dy={17} />} />
          <YAxis type="number" dataKey="i" scale="log" domain={pw(fY)} allowDataOverflow ticks={logTicks(fY[0], fY[1])}
            interval={0} width={70} tickSize={0} tickMargin={0} axisLine={false} tickLine={false}
            tick={(p: any) => <LogYTick {...p} labels={[-2, -3, -4, -5]} />} />
          <Scatter data={fIter.map((n, k) => ({ n, i: fLrs[k] }))} dataKey="i" fill="#ff1a1a" shape={dotShape('#ff1a1a')} isAnimationActive={false} />
          <Scatter data={fIter.map((n, k) => ({ n, i: fHrs[k] }))} dataKey="i" fill="#000000" shape={dotShape('#000000')} isAnimationActive={false} />
        </ComposedChart>
      </div>

      {/* frames, labels, legends and annotations */}
      <svg width={672} height={879} style={{ position: 'absolute', left: 0, top: 0, pointerEvents: 'none' }}>
        {frames.map(([l, t, r, b], k) => (
          <rect key={k} x={l} y={t} width={r - l} height={b - t} fill="none" stroke="#3a3a3a" strokeWidth={1.2} />
        ))}

        <Txt x={22} y={17} size={16}>a)</Txt>
        <Txt x={371} y={17} size={16}>b)</Txt>
        <Txt x={22} y={299} size={16}>c)</Txt>
        <Txt x={371} y={299} size={16}>d)</Txt>
        <Txt x={22} y={616} size={16}>e)</Txt>
        <Txt x={372} y={616} size={16}>f)</Txt>

        <Rot x={13} y={149} angle={-90} size={18}>Current (A)</Rot>
        <Rot x={353} y={150} angle={-90} size={18}>Current (A)</Rot>
        <Rot x={13} y={431} angle={-90} size={18}>Current (A)</Rot>
        <Rot x={356} y={428} angle={-90} size={18}>Current (A)</Rot>
        <Rot x={11} y={733} angle={-90} size={18}>Current (A)</Rot>
        <Rot x={357} y={730} angle={-90} size={18}>Current (A)</Rot>

        <Txt x={205} y={283} size={18} anchor="middle">Voltage (V)</Txt>
        <Txt x={537} y={284} size={18} anchor="middle">Voltage (V)</Txt>
        <Txt x={212} y={577} size={18} anchor="middle">Time (s)</Txt>
        <Txt x={537} y={577} size={18} anchor="middle">Time (s)</Txt>
        <Txt x={196} y={875} size={17} anchor="middle">No of Iterations</Txt>
        <Txt x={537} y={875} size={17} anchor="middle">No of Iterations</Txt>

        {aLegend.map((d, k) => (
          <g key={d.name}>
            <line x1={73} x2={107} y1={143 + 16.5 * k} y2={143 + 16.5 * k} stroke={d.color} strokeWidth={1.6} />
            <Marker shape={d.shape} x={90} y={143 + 16.5 * k} color={d.color} s={2.5} />
            <Txt x={115} y={147.5 + 16.5 * k} size={13}>{d.name}</Txt>
          </g>
        ))}
        {bLegend.map((d, k) => (
          <g key={d.name}>
            <line x1={419} x2={453} y1={151.7 + 16.3 * k} y2={151.7 + 16.3 * k} stroke={d.color} strokeWidth={1.6} />
            <Marker shape={d.shape} x={436} y={151.7 + 16.3 * k} color={d.color} s={2.5} />
            <Txt x={461} y={156.2 + 16.3 * k} size={13}>{d.name}</Txt>
          </g>
        ))}

        <line x1={247} x2={280} y1={335} y2={335} stroke="#ff1a1a" strokeWidth={1.4} />
        <circle cx={263} cy={335} r={2.8} fill="#ff1a1a" />
        <Txt x={285} y={340} size={14.5}>LRS</Txt>
        <line x1={247} x2={280} y1={353} y2={353} stroke="#000" strokeWidth={1.4} />
        <circle cx={263} cy={353} r={2.8} fill="#000" />
        <Txt x={285} y={358} size={14.5}>HRS</Txt>

        <line x1={586} x2={619} y1={333} y2={333} stroke="#f4a3a3" strokeWidth={1} />
        <circle cx={603} cy={333} r={2.8} fill="#ff1a1a" />
        <Txt x={623} y={338} size={14.5}>LRS</Txt>
        <line x1={586} x2={619} y1={351} y2={351} stroke="#8a8a8a" strokeWidth={1} />
        <circle cx={603} cy={351} r={2.8} fill="#000" />
        <Txt x={623} y={356} size={14.5}>HRS</Txt>

        <circle cx={269} cy={638} r={3} fill="#ff1a1a" />
        <Txt x={287} y={643} size={14.5}>LRS</Txt>
        <circle cx={269} cy={656} r={3} fill="#000" />
        <Txt x={287} y={661} size={14.5}>HRS</Txt>

        <circle cx={594} cy={641} r={3} fill="#ff1a1a" />
        <Txt x={616} y={646} size={14.5}>LRS</Txt>
        <circle cx={594} cy={661} r={3} fill="#000" />
        <Txt x={616} y={666} size={14.5}>HRS</Txt>

        {/* a annotations */}
        <Txt x={103} y={65}>Reset</Txt>
        <Arrow x1={148} y1={52} x2={148} y2={67} />
        <Rot x={247} y={53} angle={-22}>LRS</Rot>
        <Arrow x1={294} y1={46} x2={277} y2={49} />
        <Txt x={298} y={92}>Set</Txt>
        <Arrow x1={292} y1={98} x2={292} y2={81} />
        <Rot x={187} y={131} angle={20}>HRS</Rot>
        <Arrow x1={149} y1={114} x2={167} y2={122} />

        {/* b annotations */}
        <Rot x={481} y={55} angle={-5}>Reset</Rot>
        <Arrow x1={499} y1={63} x2={464} y2={68} />
        <Rot x={583} y={54} angle={-25}>LRS</Rot>
        <Arrow x1={638} y1={41} x2={606} y2={48} />
        <Txt x={609} y={112}>Set</Txt>
        <Arrow x1={594} y1={147} x2={609} y2={90} />
        <Rot x={503} y={134} angle={25}>HRS</Rot>
        <Arrow x1={451} y1={104} x2={481} y2={118} />
      </svg>
    </div>
  );
};

export default App;
